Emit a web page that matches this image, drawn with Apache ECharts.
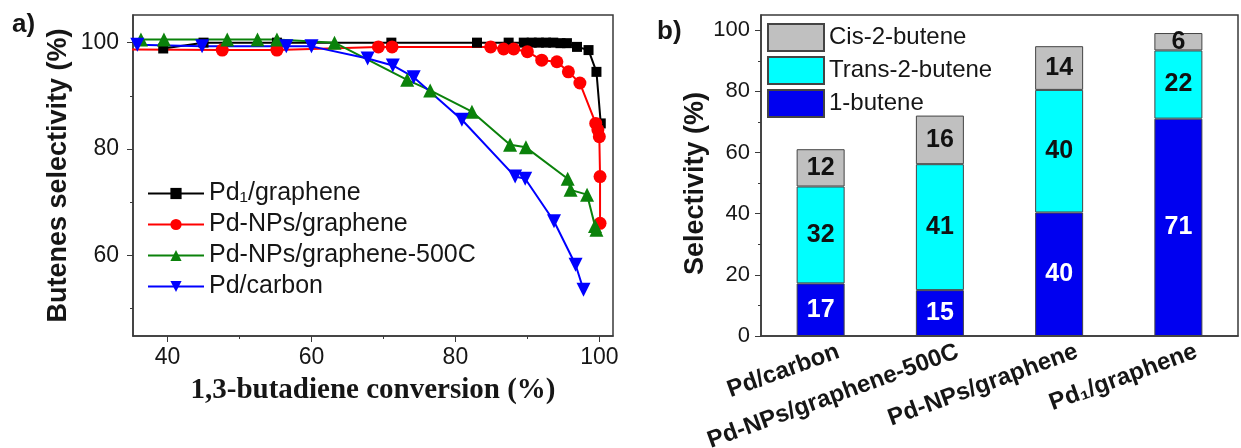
<!DOCTYPE html>
<html><head><meta charset="utf-8">
<script src="https://cdn.jsdelivr.net/npm/echarts@6/dist/echarts.min.js"></script>
<style>html,body{margin:0;padding:0;background:#fff}#c{width:1241px;height:448px}</style>
</head><body><div id="c"></div>
<script>
// ---------- Panel a data ----------
const seriesNamesA = ['Pd₁/graphene', 'Pd-NPs/graphene', 'Pd-NPs/graphene-500C', 'Pd/carbon'];
const pd1Graphene = [[39.4,98.9],[45.0,100],[55.2,100],[71.1,100],[83.0,100],[87.4,100],[89.5,100],[90.6,100],[91.6,100],[92.6,100],[93.6,100],[94.6,99.9],[95.5,99.9],[96.9,99.2],[98.5,98.6],[99.6,94.5],[100.2,84.8]];
const pdNPsGraphene = [[35.0,98.7],[47.6,98.6],[55.2,98.6],[69.3,99.2],[71.2,99.2],[84.9,99.2],[86.7,98.8],[88.1,98.8],[90.0,98.3],[92.0,96.7],[94.1,96.4],[95.7,94.5],[97.3,92.4],[99.5,84.8],[99.8,83.6],[100.0,82.3],[100.1,74.8],[100.1,66.0]];
const pdNPsGraphene500C = [[36.3,100.6],[39.5,100.6],[48.3,100.6],[52.5,100.6],[55.2,100.6],[63.2,100.0],[73.3,93.0],[76.5,91.0],[82.3,87.0],[87.6,80.8],[89.8,80.3],[95.6,74.4],[96.0,72.3],[98.3,71.4],[99.4,65.5],[99.6,64.8]];
const pdCarbon = [[35.8,99.6],[44.8,99.3],[56.5,99.3],[60.0,99.3],[67.8,97.0],[71.3,95.7],[74.2,93.5],[80.9,85.5],[88.3,74.8],[89.7,74.4],[93.7,66.4],[96.7,58.2],[97.8,53.5]];
const xTicksA = [40, 60, 80, 100];
const xMinorA = [50, 70, 90];
const yTicksA = [60, 80, 100];
const yMinorA = [50, 70, 90];

// ---------- Panel b data ----------
const catsB = ['Pd/carbon', 'Pd-NPs/graphene-500C', 'Pd-NPs/graphene', 'Pd₁/graphene'];
const oneButene = [17.2, 15.0, 40.4, 71.1];
const trans2Butene = [31.7, 41.2, 40.1, 22.3];
const cis2Butene = [12.2, 15.9, 14.3, 5.7];
const yTicksB = [0, 20, 40, 60, 80, 100];
const yMinorB = [10, 30, 50, 70, 90];

const FONT = 'Liberation Sans';
const TXT = '#161616';
const AX = '#3a3a3a';

const chart = echarts.init(document.getElementById('c'), null, {renderer: 'canvas'});

const lineSeries = (name, data, color, symbol, size, rot) => ({
  type: 'line', name, data, xAxisIndex: 0, yAxisIndex: 0,
  symbol, symbolSize: size, symbolRotate: rot || 0,
  lineStyle: {color, width: 2}, itemStyle: {color},
  showAllSymbol: true, animation: false, z: 3
});

const barSeries = (name, data, color, labelColor) => ({
  type: 'bar', name, data, stack: 'b', xAxisIndex: 2, yAxisIndex: 2,
  barWidth: 48,
  itemStyle: {color, borderColor: '#444', borderWidth: 1},
  label: {show: true, position: 'inside', color: labelColor, fontWeight: 'bold',
          fontSize: 25, fontFamily: FONT, formatter: p => String(Math.round(p.value))},
  animation: false
});

const noLine = {show: false, onZero: false};
const axLine = {show: true, onZero: false, lineStyle: {color: AX, width: 1.5}};

chart.setOption({
  animation: false,
  backgroundColor: '#fff',
  textStyle: {fontFamily: FONT, color: TXT},
  title: [
    {text: 'a)', left: 12, top: 12, padding: 0, textStyle: {fontSize: 26, fontWeight: 'bold', color: TXT, fontFamily: FONT}},
    {text: 'b)', left: 657, top: 19, padding: 0, textStyle: {fontSize: 26, fontWeight: 'bold', color: TXT, fontFamily: FONT}}
  ],
  grid: [
    {left: 133, top: 15, width: 480, height: 321, show: true, borderColor: AX, borderWidth: 1.5,
     backgroundColor: 'transparent', containLabel: false, outerBoundsMode: 'none'},
    {left: 761, top: 15, width: 477, height: 321, show: true, borderColor: AX, borderWidth: 1.5,
     backgroundColor: 'transparent', containLabel: false, outerBoundsMode: 'none'}
  ],
  legend: [
    {data: seriesNamesA, orient: 'vertical', left: 147, top: 181, padding: 0, itemWidth: 56, itemHeight: 14, itemGap: 6,
     textStyle: {fontSize: 25, lineHeight: 25, color: TXT, fontFamily: FONT}},
    {data: ['Cis-2-butene', 'Trans-2-butene', '1-butene'], orient: 'vertical', left: 767, top: 23, padding: 0,
     itemWidth: 56, itemHeight: 27, itemGap: 4, icon: 'rect',
     textStyle: {fontSize: 24, color: TXT, fontFamily: FONT}}
  ],
  xAxis: [
    {gridIndex: 0, type: 'value', min: 35.2, max: 101.9, position: 'bottom',
     axisLine: axLine,
     axisTick: {show: true, customValues: xTicksA, length: 6, lineStyle: {color: AX}},
     axisLabel: {customValues: xTicksA, fontSize: 23, margin: 10, color: TXT, fontFamily: FONT},
     splitLine: {show: false},
     name: '1,3-butadiene conversion (%)', nameLocation: 'middle', nameGap: 40,
     nameTextStyle: {fontFamily: 'Liberation Serif', fontWeight: 'bold', fontSize: 29, color: TXT}},
    {gridIndex: 0, type: 'value', min: 35.2, max: 101.9, position: 'bottom',
     axisLine: noLine,
     axisTick: {show: true, customValues: xMinorA, length: 3, lineStyle: {color: AX}},
     axisLabel: {show: false}, splitLine: {show: false}},
    {gridIndex: 1, type: 'category', data: catsB, position: 'bottom',
     axisLine: axLine,
     axisTick: {show: false}, axisLabel: {show: false}, splitLine: {show: false}},
    {gridIndex: 1, type: 'value', min: -0.65, max: 3.35, position: 'bottom',
     axisLine: noLine, axisTick: {show: false}, splitLine: {show: false},
     axisLabel: {customValues: [0, 1, 2, 3], formatter: v => catsB[Math.round(v)], rotate: 20,
                 fontWeight: 'bold', fontSize: 24, margin: 15, color: TXT, fontFamily: FONT}}
  ],
  yAxis: [
    {gridIndex: 0, type: 'value', min: 44.8, max: 105.2, position: 'left',
     axisLine: axLine,
     axisTick: {show: true, customValues: yTicksA, length: 6, lineStyle: {color: AX}},
     axisLabel: {customValues: yTicksA, fontSize: 23, margin: 14, color: TXT, fontFamily: FONT},
     splitLine: {show: false},
     name: 'Butenes selectivity (%)', nameLocation: 'middle', nameGap: 61,
     nameTextStyle: {fontWeight: 'bold', fontSize: 27, color: TXT, fontFamily: FONT}},
    {gridIndex: 0, type: 'value', min: 44.8, max: 105.2, position: 'left',
     axisLine: noLine,
     axisTick: {show: true, customValues: yMinorA, length: 3, lineStyle: {color: AX}},
     axisLabel: {show: false}, splitLine: {show: false}},
    {gridIndex: 1, type: 'value', min: 0, max: 105, position: 'left',
     axisLine: axLine,
     axisTick: {show: true, customValues: yTicksB, length: 6, lineStyle: {color: AX}},
     axisLabel: {customValues: yTicksB, fontSize: 22, margin: 11, color: TXT, fontFamily: FONT},
     splitLine: {show: false},
     name: 'Selectivity (%)', nameLocation: 'middle', nameGap: 52,
     nameTextStyle: {fontWeight: 'bold', fontSize: 27, color: TXT, fontFamily: FONT, padding: [0, 16, 0, 0]}},
    {gridIndex: 1, type: 'value', min: 0, max: 105, position: 'left',
     axisLine: noLine,
     axisTick: {show: true, customValues: yMinorB, length: 3, lineStyle: {color: AX}},
     axisLabel: {show: false}, splitLine: {show: false}}
  ],
  series: [
    lineSeries(seriesNamesA[0], pd1Graphene, '#000000', 'rect', 10),
    lineSeries(seriesNamesA[1], pdNPsGraphene, '#ff0000', 'circle', 13),
    lineSeries(seriesNamesA[2], pdNPsGraphene500C, '#0b820b', 'triangle', 14),
    lineSeries(seriesNamesA[3], pdCarbon, '#0000ff', 'triangle', 14, 180),
    barSeries('1-butene', oneButene, '#0000f0', '#ffffff'),
    barSeries('Trans-2-butene', trans2Butene, '#00ffff', '#111111'),
    barSeries('Cis-2-butene', cis2Butene, '#c0c0c0', '#111111')
  ]
});
</script>
</body></html>
